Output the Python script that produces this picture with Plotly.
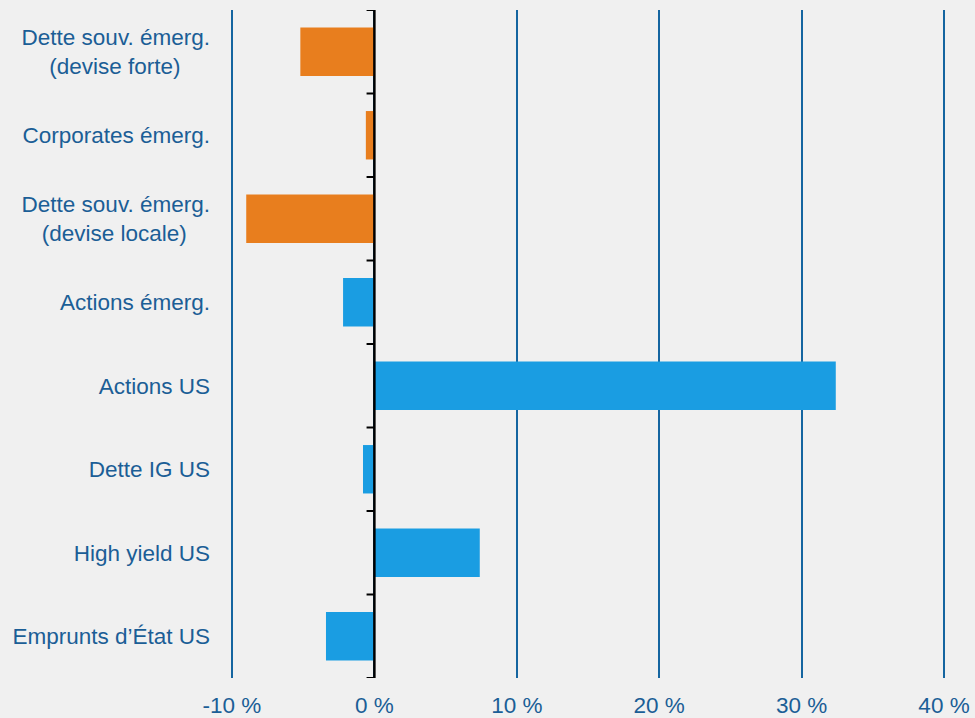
import plotly.graph_objects as go

# Asset classes, top to bottom (second lines centred under the first with padding)
categories = [
    "Dette souv. émerg.<br>(devise forte)\u00a0\u00a0\u00a0\u00a0\u2009",
    "Corporates émerg.",
    "Dette souv. émerg.<br>(devise locale)\u00a0\u00a0\u00a0\u2009",
    "Actions émerg.",
    "Actions US",
    "Dette IG US",
    "High yield US",
    "Emprunts d\u2019État US",
]
# Returns in percent
values = [-5.2, -0.6, -9.0, -2.2, 32.4, -0.8, 7.4, -3.4]
# Emerging-debt groups in orange, the rest in blue
bar_colors = ["#E87E1E", "#E87E1E", "#E87E1E", "#1A9DE2", "#1A9DE2", "#1A9DE2", "#1A9DE2", "#1A9DE2"]

x_ticks = [-10, 0, 10, 20, 30, 40]
x_tick_text = ["-10 %", "0 %", "10 %", "20 %", "30 %", "40 %"]

label_color = "#1B5E96"
grid_color = "#1565A0"
bg = "#F0F0F0"
font_family = "Liberation Sans, Arial, sans-serif"
font_size = 22.5

fig = go.Figure(
    go.Bar(
        y=categories,
        x=values,
        orientation="h",
        marker=dict(color=bar_colors, line=dict(width=0)),
        width=0.58,
        hoverinfo="x+y",
    )
)

# Zero axis line with small ticks at the category boundaries
n = len(categories)
shapes = [
    dict(type="line", xref="x", yref="y", x0=0, x1=0, y0=-0.5, y1=n - 0.5,
         line=dict(color="black", width=2.5), layer="above")
]
for i in range(n + 1):
    shapes.append(
        dict(type="line", xref="x", yref="y", x0=-0.55, x1=0, y0=i - 0.5, y1=i - 0.5,
             line=dict(color="black", width=2), layer="above")
    )

fig.update_layout(
    width=975,
    height=718,
    margin=dict(l=229, r=28, t=10, b=40),
    paper_bgcolor=bg,
    plot_bgcolor=bg,
    font=dict(family=font_family, size=font_size, color=label_color),
    showlegend=False,
    shapes=shapes,
    bargap=0.42,
    xaxis=dict(
        range=[-10.21, 40.21],
        tickvals=x_ticks,
        ticktext=x_tick_text,
        showgrid=True,
        gridcolor=grid_color,
        gridwidth=2,
        zeroline=False,
        showline=False,
        ticks="",
        automargin=False,
        ticklabelstandoff=11,
        tickfont=dict(size=font_size, color=label_color),
        fixedrange=True,
    ),
    yaxis=dict(
        categoryorder="array",
        categoryarray=categories,
        autorange=False,
        range=[n - 0.5, -0.5],
        showgrid=False,
        zeroline=False,
        showline=False,
        ticks="",
        automargin=False,
        ticklabelstandoff=18,
        tickfont=dict(size=font_size, color=label_color),
        fixedrange=True,
    ),
)

fig.write_html("out.html")
